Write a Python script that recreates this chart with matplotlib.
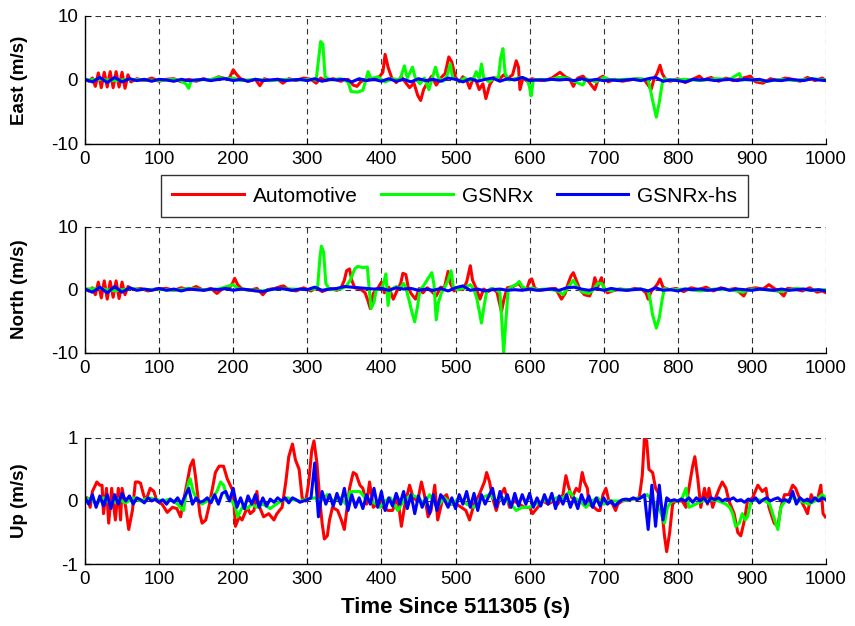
import matplotlib
matplotlib.use("Agg")
import matplotlib.pyplot as plt
import numpy as np

plt.rcParams["font.family"] = ["Liberation Sans", "DejaVu Sans"]
plt.rcParams["axes.unicode_minus"] = False

# ---- data (time in s, velocity error in m/s) ----
series_names = ["Automotive", "GSNRx", "GSNRx-hs"]
series_colors = ["#ff0000", "#00ff00", "#0000ff"]

east_auto = [
    (0, 0.1), (5, -0.2), (10, 0.3), (14, -1.0), (18, 1.1), (22, -1.2), (26, 1.2), (30, -1.1),
    (34, 1.3), (38, -1.2), (42, 1.3), (46, -1.1), (50, 1.2), (54, -1.3), (58, 0.8), (62, -0.3),
    (70, 0.2), (80, -0.1), (90, 0.3), (100, -0.2), (110, 0.1), (120, 0.2), (130, -0.3), (140, 0.1),
    (150, -0.2), (160, 0.2), (170, -0.1), (180, 0.5), (190, 0.2), (195, 0.3), (200, 1.6), (205, 0.8),
    (210, 0.2), (220, -0.2), (230, 0.1), (236, -0.9), (242, 0.2), (250, -0.1), (260, 0.1), (267, -0.5),
    (275, 0.2), (285, -0.1), (295, 0.3), (305, 0.1), (312, -0.5), (318, 0.3), (325, -0.1), (335, 0.2),
    (345, -0.2), (355, 0.1), (362, -0.8), (367, -1.0), (372, -0.3), (380, 0.2), (390, 0.0), (398, 0.6),
    (402, 1.2), (405, 4.0), (409, 2.0), (414, 0.3), (420, -0.4), (427, 0.5), (432, -0.3), (438, -1.2),
    (444, -0.5), (449, -2.4), (453, -3.2), (457, -1.5), (462, -0.4), (468, 0.6), (474, -0.8), (480, 0.3),
    (486, 1.0), (491, 3.6), (495, 2.8), (500, 0.4), (505, -0.3), (510, 0.5), (515, 0.0), (519, -1.3),
    (524, 0.3), (528, -0.2), (532, -1.5), (537, -0.6), (541, -2.9), (546, -0.8), (552, 0.4), (558, 0.0),
    (565, 0.8), (571, 0.3), (577, 0.8), (582, 3.0), (585, 2.0), (587, -1.5), (591, 0.3), (597, -0.2),
    (603, 0.2), (610, 0.0), (620, -0.1), (630, 0.3), (641, 1.2), (648, 0.5), (654, 0.2), (659, -1.0),
    (665, 0.3), (672, 0.6), (680, -0.3), (688, -1.5), (693, 0.2), (699, 0.6), (706, -0.3), (715, 0.1),
    (725, -0.2), (735, 0.0), (745, 0.2), (755, 0.0), (760, -0.8), (764, -1.5), (768, 0.2), (772, 1.0),
    (776, 2.3), (779, 1.0), (784, 0.0), (790, -0.2), (800, 0.2), (810, -0.4), (820, 0.1), (829, 0.6),
    (835, 0.0), (845, 0.4), (855, -0.2), (865, 0.3), (875, -0.1), (885, 0.2), (898, 0.6), (905, -0.3),
    (915, -0.5), (925, 0.2), (935, -0.1), (945, 0.3), (955, 0.1), (965, -0.2), (975, 0.4), (985, -0.1),
    (995, 0.3), (1000, -0.1),
]

east_gsnrx = [
    (0, 0.0), (20, 0.1), (40, -0.1), (60, 0.1), (80, 0.0), (100, -0.1), (120, 0.1), (130, -0.2),
    (136, -0.6), (140, -1.3), (143, -0.2), (150, 0.0), (170, 0.1), (180, 0.4), (190, 0.2), (200, 0.3),
    (210, -0.1), (230, 0.1), (250, -0.1), (270, 0.1), (290, 0.0), (305, 0.1), (312, 0.0), (315, 3.0),
    (318, 6.0), (321, 5.6), (324, 0.5), (330, 0.0), (345, 0.2), (355, -0.3), (359, -1.8), (368, -1.9),
    (375, -1.6), (379, 0.0), (382, 1.3), (386, 0.2), (395, 0.5), (405, -0.3), (415, 0.2), (425, 0.0),
    (431, 2.2), (435, 0.3), (442, 2.0), (446, 0.2), (452, -0.6), (458, 0.3), (464, -1.5), (468, 0.0),
    (473, 2.0), (477, 0.3), (483, -0.2), (488, 0.5), (493, 2.5), (496, 0.4), (505, -0.2), (512, 0.3),
    (520, -0.1), (525, 0.4), (528, 1.3), (532, 0.2), (535, 2.5), (538, 0.4), (545, -0.3), (552, 0.3),
    (558, 0.4), (561, 3.5), (564, 4.9), (567, 1.0), (572, 0.0), (580, 0.2), (590, 0.4), (597, 0.1),
    (600, -1.2), (602, -2.5), (605, 0.0), (615, 0.1), (625, 0.0), (640, 0.4), (650, 0.3), (660, -0.2),
    (672, -0.8), (676, 0.2), (690, -0.3), (700, 0.4), (710, 0.0), (730, 0.1), (750, 0.2), (760, 0.0),
    (763, -1.5), (766, -3.2), (771, -5.8), (775, -3.5), (779, -0.5), (782, 0.2), (790, 0.0), (810, 0.1),
    (830, -0.1), (850, 0.2), (870, 0.1), (883, 1.0), (887, 0.0), (900, 0.1), (920, -0.2), (940, 0.1),
    (960, -0.1), (980, 0.2), (1000, 0.0),
]

# GSNRx-hs sampled every 10 s
hs_step_top = 10
east_hs = [
    0.1, -0.3, 0.4, -0.4, 0.4, -0.3, 0.2, -0.1, 0.1, -0.2, 0.1, 0.0, -0.2, 0.1, -0.1, 0.0, 0.1, -0.1,
    0.1, 0.2, -0.1, 0.1, -0.2, 0.1, -0.1, 0.0, 0.1, -0.1, 0.0, 0.1, -0.1, 0.2, -0.2, 0.1, 0.0, 0.1,
    -0.3, 0.2, -0.1, 0.1, -0.2, 0.2, -0.2, 0.1, -0.3, 0.2, -0.1, 0.1, -0.2, 0.3, 0.1, -0.3, 0.2, -0.2,
    0.1, 0.3, -0.2, 0.2, 0.0, 0.4, -0.1, 0.0, 0.0, 0.1, 0.0, 0.1, -0.1, 0.2, -0.1, 0.1, -0.1, 0.0,
    -0.1, 0.0, 0.1, -0.1, 0.2, 0.4, -0.2, 0.0, -0.1, -0.3, 0.1, 0.0, 0.1, -0.1, 0.0, 0.1, -0.1, 0.1,
    0.0, 0.1, -0.2, 0.0, -0.1, 0.1, 0.0, -0.1, 0.2, 0.0, -0.1,
]

north_auto = [
    (0, 0.2), (5, -0.2), (10, 0.3), (14, -0.8), (18, 1.2), (22, -1.3), (26, 1.4), (30, -1.5),
    (34, 1.3), (38, -1.2), (42, 1.4), (46, -1.4), (50, 1.2), (54, -0.8), (58, 0.5), (65, 0.0),
    (75, 0.2), (85, -0.2), (95, 0.1), (110, 0.2), (120, -0.1), (130, 0.3), (140, 0.0), (150, 0.5),
    (160, -0.1), (170, 0.2), (178, -0.6), (185, 0.1), (195, 0.3), (199, 1.0), (202, 1.8), (206, 0.8),
    (212, 0.1), (222, -0.1), (232, 0.2), (240, -0.8), (246, 0.0), (256, 0.2), (264, 0.5), (268, 0.6),
    (275, 0.0), (285, -0.2), (295, 0.3), (305, -0.2), (312, 0.3), (320, -0.3), (330, 0.2), (340, -0.1),
    (346, 0.4), (350, 1.5), (353, 3.0), (357, 3.3), (360, 1.5), (364, 0.3), (372, 0.1), (378, -0.5),
    (382, -1.8), (385, -3.0), (389, -0.6), (395, 0.2), (400, 1.2), (404, -0.5), (410, 0.4), (416, -1.5),
    (421, -0.2), (426, 1.0), (429, 2.6), (433, 2.4), (436, 0.5), (440, -0.6), (446, -1.5), (451, 0.2),
    (456, -0.5), (462, 0.3), (468, -0.3), (474, -1.0), (480, 0.4), (485, 0.3), (490, 2.9), (493, 1.0),
    (498, -0.2), (504, 0.3), (510, 0.0), (515, 1.2), (520, 3.8), (523, 1.5), (528, 0.2), (533, -1.5),
    (538, 0.1), (544, -0.3), (550, 0.2), (556, -0.4), (562, -3.5), (566, -1.2), (570, 0.3), (578, 0.5),
    (585, 1.0), (590, 0.3), (596, 0.0), (600, 1.5), (603, 1.7), (607, 0.2), (615, -0.1), (625, 0.1),
    (635, 0.2), (643, -1.5), (648, -0.6), (652, 1.0), (656, 2.2), (659, 2.7), (663, 1.5), (668, 0.0),
    (674, -0.8), (681, -1.0), (685, 0.2), (688, 1.9), (692, 0.5), (697, 1.9), (700, 0.4), (705, -0.5),
    (712, -0.2), (722, 0.1), (732, -0.1), (742, 0.2), (752, 0.0), (757, -0.5), (760, -1.5), (764, -0.3),
    (770, 0.5), (773, 1.0), (776, 1.7), (780, 0.4), (788, 0.0), (798, 0.2), (808, -0.3), (818, 0.3),
    (828, 0.0), (838, 0.4), (848, -0.2), (858, 0.3), (868, 0.0), (878, 0.2), (884, -0.5), (889, -1.0),
    (894, 0.1), (905, 0.3), (915, 0.1), (923, 0.8), (930, 0.2), (937, -0.3), (943, -1.0), (948, 0.2),
    (958, 0.1), (968, -0.2), (978, 0.3), (988, -0.4), (995, -0.2), (1000, -0.5),
]

north_gsnrx = [
    (0, 0.1), (20, 0.2), (40, -0.2), (60, 0.2), (80, 0.0), (100, 0.1), (120, -0.1), (140, 0.2),
    (160, 0.0), (180, 0.1), (200, 0.8), (206, 0.2), (220, 0.0), (240, -0.2), (260, 0.2), (280, 0.1),
    (300, 0.0), (310, 0.1), (314, 0.5), (317, 5.0), (319, 6.9), (322, 6.0), (325, 1.0), (330, 0.0),
    (345, 0.1), (352, 0.5), (358, 1.5), (364, 3.3), (368, 3.7), (375, 3.5), (381, 3.6), (384, -0.5),
    (386, -3.0), (390, -2.0), (393, 0.0), (400, 0.2), (403, 1.0), (406, 2.5), (409, -2.5), (412, 0.0),
    (420, 0.5), (425, 0.2), (430, 1.0), (433, 0.3), (437, -1.5), (441, -3.5), (445, -5.1), (449, -2.5),
    (452, 0.0), (456, 0.5), (459, 1.0), (463, 1.8), (468, 2.7), (471, 0.8), (474, -4.8), (477, -2.0),
    (481, -0.5), (486, 0.5), (490, 1.5), (494, 3.0), (497, 0.5), (502, 0.0), (510, 0.2), (515, 0.5),
    (520, 0.8), (525, 0.0), (529, -1.5), (533, -4.0), (535, -5.3), (538, -3.0), (542, -0.3), (548, 0.2),
    (555, 0.0), (560, -0.5), (563, -6.0), (565, -10.0), (568, -5.0), (571, 0.0), (576, 0.5), (582, 0.8),
    (586, 1.3), (590, 0.5), (598, 0.0), (603, 0.3), (610, 0.0), (620, 0.1), (630, 0.0), (640, -0.3),
    (645, -0.8), (652, 0.4), (659, 1.5), (664, 0.5), (672, -0.4), (680, -0.6), (686, 0.0), (692, 1.0),
    (697, 1.0), (702, 0.0), (710, -0.2), (720, 0.1), (735, 0.0), (750, 0.1), (760, -0.2), (763, -1.8),
    (766, -4.0), (771, -6.1), (775, -4.5), (779, -1.5), (782, 0.2), (790, 0.0), (810, 0.1), (830, -0.2),
    (850, 0.1), (870, 0.0), (888, -0.4), (900, 0.1), (920, 0.0), (940, -0.3), (960, 0.2), (980, -0.1),
    (1000, 0.0),
]

north_hs = [
    0.1, -0.4, 0.4, -0.5, 0.5, -0.4, 0.3, -0.1, 0.1, -0.1, 0.2, -0.1, 0.1, -0.2, 0.1, 0.0, -0.1, 0.1,
    0.0, 0.2, -0.1, 0.1, 0.0, -0.2, -0.3, 0.0, 0.2, 0.1, -0.1, 0.1, 0.0, 0.4, -0.1, 0.1, 0.2, 0.5,
    0.4, 0.3, 0.2, 0.1, 0.2, -0.1, 0.3, 0.1, 0.2, -0.1, 0.1, -0.1, 0.2, -0.2, 0.3, 0.6, -0.1, 0.1,
    -0.2, 0.0, 0.1, -0.1, 0.0, -0.1, 0.1, -0.1, 0.0, 0.1, -0.1, 0.3, 0.4, 0.1, -0.1, 0.2, -0.1, 0.2,
    0.0, -0.1, 0.0, 0.1, -0.2, 0.3, -0.1, 0.0, -0.2, 0.1, 0.0, 0.1, -0.1, 0.0, 0.2, -0.1, 0.1, 0.0,
    -0.1, 0.1, 0.0, -0.1, 0.1, -0.1, 0.0, 0.1, -0.1, 0.0, -0.2,
]

up_auto = [
    (0, 0.05), (3, 0.05), (7, -0.1), (10, 0.15), (16, 0.3), (20, 0.25), (23, 0.25), (25, -0.2),
    (29, 0.2), (32, -0.35), (36, 0.2), (41, -0.3), (45, 0.2), (48, -0.3), (50, 0.2), (55, -0.1),
    (59, -0.45), (64, -0.15), (68, 0.3), (72, 0.3), (75, 0.28), (79, 0.1), (82, 0.0), (88, 0.2),
    (93, 0.15), (97, 0.0), (104, -0.05), (111, -0.18), (118, -0.1), (124, -0.12), (129, -0.25), (133, 0.0),
    (138, 0.3), (142, 0.55), (146, 0.65), (149, 0.4), (152, 0.1), (155, -0.2), (158, -0.35), (163, -0.3),
    (167, -0.1), (172, 0.2), (176, 0.45), (181, 0.55), (187, 0.55), (192, 0.35), (196, 0.25), (200, 0.15),
    (203, -0.4), (208, -0.25), (212, -0.3), (219, -0.1), (223, -0.2), (228, -0.15), (232, 0.15), (234, -0.05),
    (241, -0.25), (248, -0.2), (255, -0.3), (259, -0.2), (266, -0.1), (271, 0.3), (275, 0.7), (280, 0.9),
    (284, 0.65), (289, 0.5), (293, 0.05), (298, 0.0), (302, 0.3), (306, 0.8), (309, 0.95), (313, 0.6),
    (317, 0.0), (320, -0.35), (323, -0.6), (327, -0.55), (330, -0.3), (334, -0.1), (341, -0.15), (346, -0.3),
    (350, -0.45), (357, 0.2), (362, 0.45), (366, 0.42), (371, 0.25), (375, 0.2), (380, -0.05), (384, 0.3),
    (389, -0.1), (398, 0.0), (402, -0.1), (409, -0.15), (415, -0.15), (422, 0.05), (427, -0.4), (431, -0.1),
    (438, 0.25), (443, 0.05), (449, 0.0), (454, 0.3), (458, 0.1), (463, -0.25), (467, -0.15), (472, 0.25),
    (476, -0.3), (483, 0.05), (488, 0.1), (492, -0.05), (501, -0.05), (508, -0.1), (514, -0.15), (519, -0.3),
    (525, -0.05), (532, 0.1), (539, 0.3), (542, 0.45), (546, 0.3), (550, 0.05), (555, -0.15), (561, 0.1),
    (566, 0.2), (573, -0.1), (579, 0.0), (586, -0.05), (593, -0.1), (600, -0.1), (604, -0.2), (611, -0.1),
    (618, 0.0), (625, -0.05), (632, 0.0), (638, -0.05), (645, 0.1), (649, 0.4), (652, 0.25), (657, 0.05),
    (663, 0.2), (667, 0.15), (671, 0.45), (674, 0.3), (678, 0.2), (680, -0.05), (687, -0.1), (692, -0.15),
    (695, -0.15), (699, 0.1), (703, 0.2), (707, 0.0), (712, -0.05), (716, -0.15), (719, -0.05), (725, 0.0),
    (735, 0.02), (748, 0.05), (752, 0.4), (755, 1.0), (758, 0.95), (761, 0.5), (766, 0.45), (770, 0.2),
    (775, 0.1), (779, -0.2), (782, -0.55), (785, -0.8), (789, -0.5), (793, -0.05), (797, 0.0), (806, 0.0),
    (811, -0.1), (815, 0.2), (820, 0.55), (823, 0.7), (827, 0.35), (831, -0.1), (836, 0.2), (840, -0.05),
    (842, 0.2), (847, -0.1), (851, 0.05), (856, 0.2), (860, 0.3), (865, 0.2), (869, 0.0), (876, -0.2),
    (881, -0.5), (885, -0.55), (890, -0.3), (894, 0.0), (901, 0.05), (908, 0.25), (914, 0.15), (919, 0.2),
    (923, -0.1), (930, -0.35), (935, -0.4), (939, -0.1), (944, 0.1), (950, 0.1), (955, 0.25), (959, 0.2),
    (964, 0.05), (971, -0.1), (975, -0.2), (980, 0.1), (984, 0.0), (989, 0.05), (993, 0.25), (996, -0.2),
    (999, -0.25),
]

up_gsnrx = [
    (0, 0.02), (8, 0.05), (15, -0.05), (25, 0.05), (35, -0.05), (45, 0.03), (55, -0.03), (65, 0.05),
    (75, 0.0), (85, 0.05), (95, 0.03), (105, 0.0), (115, 0.03), (125, -0.05), (130, -0.12), (133, -0.15),
    (136, 0.1), (140, 0.3), (142, 0.35), (146, 0.15), (150, 0.05), (158, -0.05), (165, 0.0), (172, 0.05),
    (178, 0.15), (183, 0.3), (187, 0.25), (192, 0.05), (198, 0.0), (203, -0.1), (206, -0.25), (210, -0.15),
    (215, -0.05), (219, -0.12), (225, -0.05), (232, -0.1), (240, -0.05), (250, -0.12), (258, -0.05), (265, 0.0),
    (273, 0.05), (280, 0.02), (290, 0.0), (300, 0.03), (310, 0.05), (318, 0.0), (327, 0.1), (335, 0.0),
    (345, 0.05), (352, -0.05), (358, 0.15), (364, 0.15), (371, 0.15), (378, 0.05), (386, 0.0), (393, -0.05),
    (398, -0.1), (405, 0.0), (412, 0.05), (422, -0.15), (430, 0.0), (440, 0.1), (450, 0.05), (458, -0.05),
    (465, 0.1), (475, -0.1), (485, 0.05), (495, -0.05), (505, 0.05), (515, -0.05), (525, -0.1), (535, 0.05),
    (546, 0.1), (555, 0.0), (565, 0.05), (575, -0.05), (582, -0.15), (590, -0.1), (600, -0.1), (608, -0.05),
    (618, 0.0), (628, 0.0), (636, 0.05), (645, 0.05), (654, 0.15), (660, 0.05), (668, 0.0), (676, -0.1),
    (684, 0.0), (692, 0.05), (700, -0.05), (707, 0.0), (720, 0.0), (735, 0.02), (750, 0.05), (759, 0.1),
    (765, 0.0), (770, -0.05), (776, -0.15), (782, -0.35), (786, -0.1), (792, 0.0), (800, 0.0), (806, 0.05),
    (811, 0.2), (815, -0.1), (824, -0.05), (833, 0.0), (845, 0.02), (855, 0.0), (865, -0.05), (870, -0.1),
    (874, -0.2), (878, -0.4), (883, -0.35), (887, -0.2), (891, -0.3), (894, -0.25), (899, 0.0), (908, 0.02),
    (918, 0.0), (924, -0.05), (928, -0.2), (932, -0.35), (935, -0.45), (939, -0.1), (945, 0.0), (955, 0.05),
    (965, 0.0), (977, -0.05), (985, 0.0), (995, 0.1), (1000, 0.05),
]

# GSNRx-hs Up sampled every 5 s
hs_step_up = 5
up_hs = [
    0.05, -0.05, 0.1, -0.1, 0.08, -0.08, 0.1, -0.12, 0.1, -0.05, 0.12, 0.0, 0.08, -0.05, 0.05, 0.02,
    -0.03, 0.05, 0.0, 0.03, -0.02, 0.02, -0.05, 0.03, -0.02, 0.05, -0.05, 0.08, 0.2, -0.05, 0.05, -0.02,
    0.0, 0.05, -0.03, 0.1, -0.05, 0.12, 0.15, 0.0, 0.2, -0.1, 0.05, -0.12, 0.08, -0.05, 0.1, -0.1,
    0.05, -0.08, 0.03, -0.02, 0.05, 0.0, 0.05, -0.03, 0.05, 0.02, -0.02, 0.0, 0.02, 0.05, 0.6, -0.25,
    0.15, -0.05, 0.1, -0.08, 0.12, -0.05, 0.2, -0.15, 0.1, -0.1, 0.05, -0.12, 0.1, -0.05, 0.2, -0.1,
    0.15, -0.15, 0.05, -0.08, 0.12, -0.05, 0.15, -0.12, 0.1, -0.2, 0.08, -0.1, 0.05, -0.2, 0.1, -0.15,
    0.1, 0.02, -0.1, 0.05, -0.12, 0.1, -0.05, 0.15, -0.1, 0.12, -0.15, 0.1, -0.05, 0.08, 0.2, -0.1,
    0.15, -0.05, 0.1, -0.1, 0.12, -0.08, 0.1, -0.05, 0.12, -0.1, 0.05, -0.08, 0.1, -0.05, 0.12, -0.12,
    0.08, -0.05, 0.1, -0.1, 0.05, -0.12, 0.1, -0.05, 0.08, -0.1, 0.05, -0.08, 0.05, -0.05, 0.0, -0.08,
    -0.02, 0.02, 0.03, 0.02, 0.05, 0.02, 0.05, 0.1, -0.45, 0.25, -0.4, 0.25, -0.3, 0.05, 0.0, 0.02,
    0.0, 0.03, 0.0, 0.05, -0.02, 0.05, 0.0, 0.05, -0.03, 0.05, 0.02, 0.05, 0.0, 0.03, 0.02, 0.05,
    0.0, 0.02, -0.02, 0.03, 0.0, 0.05, -0.03, 0.02, 0.05, 0.0, 0.03, 0.05, 0.0, 0.02, -0.02, 0.15,
    -0.05, 0.05, 0.0, 0.03, -0.02, 0.05, 0.0, 0.05, 0.02,
]

panel_labels = ["East (m/s)", "North (m/s)", "Up (m/s)"]
panel_ylims = [(-10, 10), (-10, 10), (-1, 1)]
panel_yticks = [[-10, 0, 10], [-10, 0, 10], [-1, 0, 1]]
x_ticks = list(range(0, 1001, 100))
x_label = "Time Since 511305 (s)"


def pairs_to_xy(pairs):
    arr = np.array(pairs, dtype=float)
    return arr[:, 0], arr[:, 1]


def sampled_to_xy(values, step):
    vals = np.array(values, dtype=float)
    return np.arange(len(vals)) * step, vals


panels = [
    [pairs_to_xy(east_auto), pairs_to_xy(east_gsnrx), sampled_to_xy(east_hs, hs_step_top)],
    [pairs_to_xy(north_auto), pairs_to_xy(north_gsnrx), sampled_to_xy(north_hs, hs_step_top)],
    [pairs_to_xy(up_auto), pairs_to_xy(up_gsnrx), sampled_to_xy(up_hs, hs_step_up)],
]

fig = plt.figure(figsize=(8.55, 6.26), dpi=100)
axes_rects = [
    [0.0994, 0.770, 0.8667, 0.2045],
    [0.0994, 0.4366, 0.8667, 0.2013],
    [0.0994, 0.0986, 0.8667, 0.2022],
]

handles = []
for i, rect in enumerate(axes_rects):
    ax = fig.add_axes(rect)
    for (x, y), color, name in zip(panels[i], series_colors, series_names):
        line, = ax.plot(x, y, color=color, linewidth=2.2, label=name, solid_joinstyle="round")
        if i == 0:
            handles.append(line)
    ax.set_xlim(0, 1000)
    ax.set_ylim(*panel_ylims[i])
    ax.set_xticks(x_ticks)
    ax.set_yticks(panel_yticks[i])
    ax.grid(True, color="0.2", linestyle=(0, (5, 4)), linewidth=0.8)
    ax.set_axisbelow(True)
    for side in ["top", "right"]:
        ax.spines[side].set_visible(False)
    for side in ["left", "bottom"]:
        ax.spines[side].set_linewidth(1.0)
    ax.tick_params(direction="in", length=4, labelsize=13.5, pad=5)
    ax.set_ylabel(panel_labels[i], fontsize=13.5, fontweight="bold")
    ax.yaxis.set_label_coords(-0.077, 0.5)
    if i == 2:
        ax.set_xlabel(x_label, fontsize=16, fontweight="bold", labelpad=6)

leg = fig.legend(
    handles=handles,
    loc="center",
    bbox_to_anchor=((157 + 752) / 2 / 855, 1 - 196 / 626),
    ncol=3,
    fontsize=15,
    frameon=True,
    fancybox=False,
    edgecolor="black",
    handlelength=3.45,
    handletextpad=0.4,
    columnspacing=1.15,
    borderpad=0.55,
    borderaxespad=0.0,
)
leg.get_frame().set_linewidth(1.0)

fig.savefig("out.png", dpi=100)
